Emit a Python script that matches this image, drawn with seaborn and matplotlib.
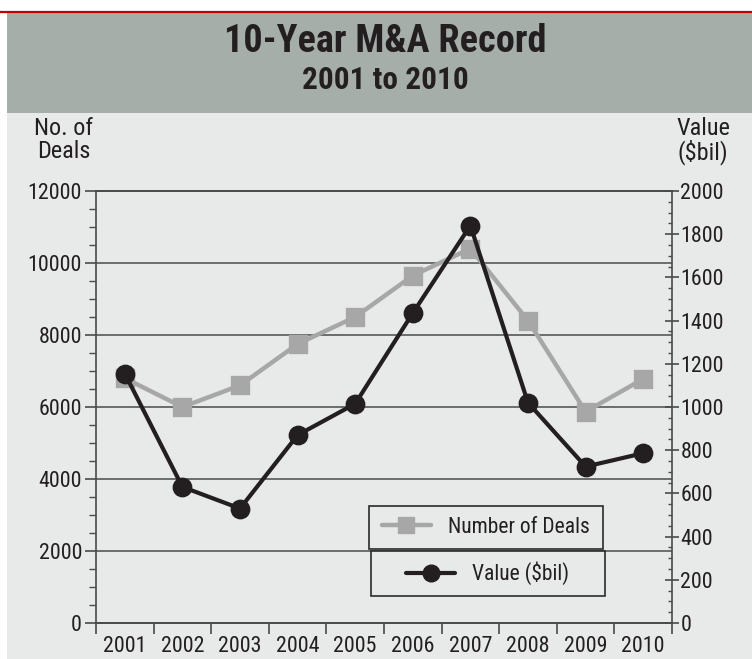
import matplotlib
matplotlib.use("Agg")
import matplotlib.pyplot as plt
from matplotlib import font_manager
from matplotlib.patches import Rectangle
from matplotlib.lines import Line2D
from matplotlib.ticker import MultipleLocator, FixedLocator, NullFormatter, FixedFormatter
import seaborn as sns

# ---- data ----
years = ['2001', '2002', '2003', '2004', '2005', '2006', '2007', '2008', '2009', '2010']
deals = [6800, 6000, 6600, 7750, 8500, 9650, 10400, 8400, 5870, 6780]
value = [1155, 630, 530, 870, 1015, 1435, 1840, 1020, 724, 786]
left_ticks = [0, 2000, 4000, 6000, 8000, 10000, 12000]
right_ticks = [0, 200, 400, 600, 800, 1000, 1200, 1400, 1600, 1800, 2000]

sns.set_theme(style="white")

names = {f.name for f in font_manager.fontManager.ttflist}
fam = None
for cand in ['Liberation Sans Narrow', 'Roboto Condensed', 'Arial Narrow', 'Open Sans Condensed']:
    if cand in names:
        fam = cand
        break
stretch = 'normal'
if fam is None:
    fam = 'DejaVu Sans'
    stretch = 'condensed'
plt.rcParams['font.family'] = [fam, 'DejaVu Sans']
plt.rcParams['font.stretch'] = stretch

TXT = '#231f20'
BG = '#e8eae9'
BAND = '#a6aea9'
GRID = '#4a4a4a'
GRAY = '#a7a7a7'
BLACK = '#231f20'
FS = 15.8

W, H = 752, 659
fig = plt.figure(figsize=(W / 100, H / 100), dpi=100, facecolor='white')

def fx(px):
    return px / W

def fy(py):
    return 1 - py / H

fig.patches.append(Rectangle((fx(7), 0), 1, fy(13), transform=fig.transFigure,
                             facecolor=BG, edgecolor='none', zorder=-10))
fig.patches.append(Rectangle((fx(7), fy(113)), 1, (113 - 13) / H, transform=fig.transFigure,
                             facecolor=BAND, edgecolor='none', zorder=-9))
fig.lines.append(Line2D([0, 1], [fy(11.5), fy(11.5)], transform=fig.transFigure,
                        color='#c00000', lw=1.6, zorder=-8))

fig.text(fx(385), fy(42), "10-Year M&A Record", ha='center', va='center',
         fontsize=27.5, fontweight='bold', color=TXT)
fig.text(fx(385), fy(80), "2001 to 2010", ha='center', va='center',
         fontsize=22.5, fontweight='bold', color=TXT)

fig.text(fx(64), fy(117), "No. of\nDeals", ha='center', va='top', fontsize=17.5,
         color=TXT, linespacing=0.98)
fig.text(fx(703), fy(117), "Value\n($bil)", ha='center', va='top', fontsize=17.5,
         color=TXT, linespacing=0.98)

ax = fig.add_axes([fx(96), 36 / H, 576 / W, 432 / H])
ax.set_facecolor('none')
ax2 = ax.twinx()

sns.pointplot(x=years, y=deals, ax=ax, color=GRAY, markers='s', markersize=11,
              linewidth=3.2, errorbar=None)
sns.pointplot(x=years, y=value, ax=ax2, color=BLACK, markers='o', markersize=12,
              linewidth=3.0, errorbar=None)

for a in (ax, ax2):
    a.set_xlim(-0.5, len(years) - 0.5)
    a.set_xlabel('')
    a.set_ylabel('')

ax.set_ylim(0, 12000)
ax2.set_ylim(0, 2000)

# grid
ax.yaxis.set_major_locator(FixedLocator(left_ticks))
ax.yaxis.set_minor_locator(MultipleLocator(500))
ax.grid(True, axis='y', which='major', color=GRID, lw=1.1)
ax.set_axisbelow(True)
ax.tick_params(axis='y', which='major', direction='out', length=8, width=1.2,
               color=GRID, labelsize=FS, labelcolor=TXT, pad=2, left=True)
ax.tick_params(axis='y', which='minor', direction='out', length=5, width=1.0,
               color=GRID, left=True)

ax2.yaxis.set_major_locator(FixedLocator(right_ticks))
ax2.yaxis.set_minor_locator(MultipleLocator(50))
ax2.tick_params(axis='y', which='major', direction='inout', length=10, width=1.2,
                color=GRID, labelsize=FS, labelcolor=TXT, pad=1, right=True)
ax2.tick_params(axis='y', which='minor', direction='in', length=3, width=1.0,
                color=GRID, right=True)

# x ticks: boundaries as major ticks, labels at centers
n = len(years)
ax.xaxis.set_major_locator(FixedLocator([i - 0.5 for i in range(n + 1)]))
ax.xaxis.set_major_formatter(NullFormatter())
ax.xaxis.set_minor_locator(FixedLocator(list(range(n))))
ax.xaxis.set_minor_formatter(FixedFormatter(years))
ax.tick_params(axis='x', which='major', direction='out', length=8, width=1.2,
               color=GRID, bottom=True)
ax.tick_params(axis='x', which='minor', length=0, labelsize=FS, labelcolor=TXT,
               pad=9, bottom=True)

for a in (ax, ax2):
    for s in a.spines.values():
        s.set_color(GRID)
        s.set_linewidth(1.2)
ax.spines['right'].set_visible(False)
ax2.spines['left'].set_visible(False)

# legend boxes
def legend_box(a, x0, y0, w, h, handle, label):
    a.add_patch(Rectangle((x0, y0), w, h, transform=a.transAxes, facecolor=BG,
                          edgecolor='#2a2a2a', lw=1.2, zorder=5, clip_on=False))
    leg = a.legend(handles=[handle], labels=[label], loc='center',
                   bbox_to_anchor=(x0 + w / 2, y0 + h / 2), frameon=False,
                   fontsize=15.5, handlelength=2.3, handletextpad=0.8,
                   borderpad=0, labelcolor=TXT)
    leg.set_zorder(6)
    return leg

h1 = Line2D([], [], color=GRAY, lw=3.2, marker='s', markersize=11)
h2 = Line2D([], [], color=BLACK, lw=3.0, marker='o', markersize=12)
ax_leg1 = legend_box(ax2, 0.474, 0.171, 0.406, 0.100, h1, 'Number of Deals')
ax2.add_artist(ax_leg1)
legend_box(ax2, 0.477, 0.0625, 0.406, 0.104, h2, 'Value ($bil)')

fig.savefig('out.png', dpi=100, facecolor='white')
